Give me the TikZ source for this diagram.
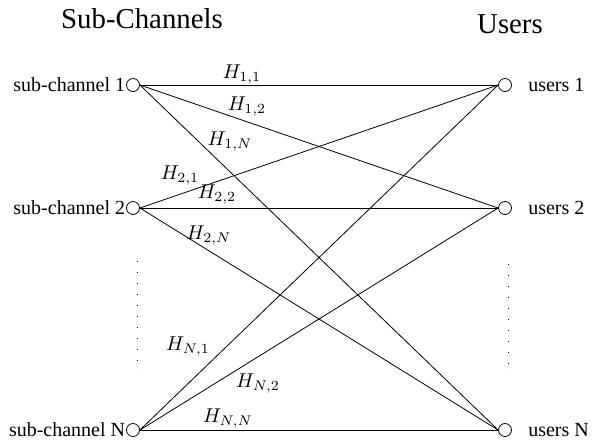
\documentclass[tikz,border=0pt]{standalone}
\usepackage[no-math]{fontspec}
\setmainfont{Liberation Serif}
\usepackage{tikz}
\usetikzlibrary{positioning}
\tikzset{
  vtx/.style={draw,circle,inner sep=0pt,minimum size=6.5pt,thin},
  ttl/.style={font=\fontsize{14.4}{17}\selectfont,inner sep=0pt},
  lbl/.style={font=\fontsize{10}{12}\selectfont,inner sep=0pt},
  gain/.style={inner sep=0pt},
  link/.style={thin,black},
  vdots/.style={dash pattern=on 0.5pt off 5pt,thin},
}

\begin{document}
\begin{tikzpicture}[x=0.5pt,y=-0.5pt]
    \useasboundingbox (0,0) rectangle (594,441);
    % titles
    \node[ttl] (tsc) at (142,19) {Sub-Channels};
    \node[ttl] (tus) at (510,24) {Users};
    % sub-channels and users
    \node[vtx] (sc1) at (133,85)  {};
    \node[vtx] (sc2) at (133,208) {};
    \node[vtx] (scN) at (133,430) {};
    \node[vtx] (us1) at (505,85)  {};
    \node[vtx] (us2) at (505,208) {};
    \node[vtx] (usN) at (505,430) {};
    \node[lbl,left=0.3pt of sc1] (sc1t) {sub-channel 1};
    \node[lbl,left=0.3pt of sc2] (sc2t) {sub-channel 2};
    \node[lbl,left=0.3pt of scN] (scNt) {sub-channel N};
    \node[lbl,right=8pt of us1]  (us1t) {users 1};
    \node[lbl,right=8pt of us2]  (us2t) {users 2};
    \node[lbl,right=8pt of usN]  (usNt) {users N};
    % links
    \draw[link] (sc1.east)--(us1.west);
    \draw[link] (sc1.east)--(us2.west);
    \draw[link] (sc1.east)--(usN.west);
    \draw[link] (sc2.east)--(us1.west);
    \draw[link] (sc2.east)--(us2.west);
    \draw[link] (sc2.east)--(usN.west);
    \draw[link] (scN.east)--(us1.west);
    \draw[link] (scN.east)--(us2.west);
    \draw[link] (scN.east)--(usN.west);
    % gains
    \node[gain] (h11) at (242,75)  {$H_{1,1}$};
    \node[gain] (h12) at (247,107) {$H_{1,2}$};
    \node[gain] (h1N) at (230,142) {$H_{1,N}$};
    \node[gain] (h21) at (180,176) {$H_{2,1}$};
    \node[gain] (h22) at (217,195) {$H_{2,2}$};
    \node[gain] (h2N) at (209,236) {$H_{2,N}$};
    \node[gain] (hN1) at (188,347) {$H_{N,1}$};
    \node[gain] (hN2) at (258,384) {$H_{N,2}$};
    \node[gain] (hNN) at (228,419) {$H_{N,N}$};
    % dots
    \coordinate (ldt) at (137,261);
    \coordinate (ldb) at (137,371);
    \coordinate (rdt) at (508,264);
    \coordinate (rdb) at (508,374);
    \draw[vdots] (ldt)--(ldb);
    \draw[vdots] (rdt)--(rdb);
  \end{tikzpicture}
\end{document}
